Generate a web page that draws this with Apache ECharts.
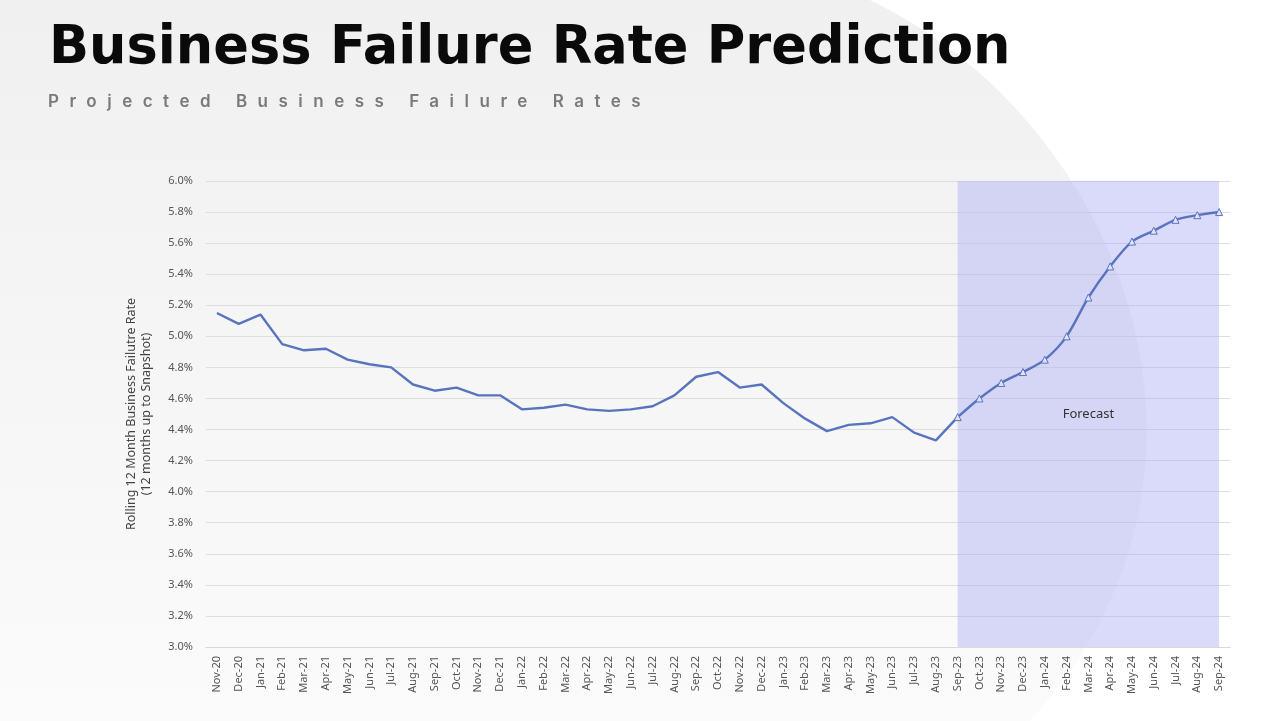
<!DOCTYPE html>
<html>
<head>
<meta charset="utf-8">
<script src="https://cdn.jsdelivr.net/npm/echarts@6/dist/echarts.min.js"></script>
<style>
  html, body { margin: 0; padding: 0; background: #ffffff; }
  #wrap { position: relative; width: 1280px; height: 721px; }
  #chart { position: absolute; left: 0; top: 0; width: 1280px; height: 721px; }
  #sub { position: absolute; left: 48px; top: 91px; font-family: Inter, "Noto Sans", sans-serif; font-size: 17px; font-weight: 600; color: #7a7a7a; letter-spacing: 10.5px; white-space: nowrap; }
</style>
</head>
<body>
<div id="wrap">
  <div id="chart"></div>
  <div id="sub">Projected Business Failure Rates</div>
</div>
<script>
const categories = ['Nov-20','Dec-20','Jan-21','Feb-21','Mar-21','Apr-21','May-21','Jun-21','Jul-21','Aug-21','Sep-21','Oct-21','Nov-21','Dec-21','Jan-22','Feb-22','Mar-22','Apr-22','May-22','Jun-22','Jul-22','Aug-22','Sep-22','Oct-22','Nov-22','Dec-22','Jan-23','Feb-23','Mar-23','Apr-23','May-23','Jun-23','Jul-23','Aug-23','Sep-23','Oct-23','Nov-23','Dec-23','Jan-24','Feb-24','Mar-24','Apr-24','May-24','Jun-24','Jul-24','Aug-24','Sep-24'];
// Actual rates Nov-20 .. Sep-23 (%)
const actualRates = [5.15,5.08,5.14,4.95,4.91,4.92,4.85,4.82,4.80,4.69,4.65,4.67,4.62,4.62,4.53,4.54,4.56,4.53,4.52,4.53,4.55,4.62,4.74,4.77,4.67,4.69,4.57,4.47,4.39,4.43,4.44,4.48,4.38,4.33,4.48];
// Forecast rates Sep-23 .. Sep-24 (%)
const forecastRates = [4.48,4.60,4.70,4.77,4.85,5.00,5.25,5.45,5.61,5.68,5.75,5.78,5.80];
const yTicks = ['3.0%','3.2%','3.4%','3.6%','3.8%','4.0%','4.2%','4.4%','4.6%','4.8%','5.0%','5.2%','5.4%','5.6%','5.8%','6.0%'];
const forecastStart = 'Sep-23';
const forecastEnd = 'Sep-24';

const actualSeries = categories.map((c, i) => i < actualRates.length ? actualRates[i] : null);
const fOffset = categories.indexOf(forecastStart);
const forecastSeries = categories.map((c, i) => i >= fOffset ? forecastRates[i - fOffset] : null);

// decorative background shape (large soft grey curve on the left of the slide)
function bgShape() {
  const p0 = [870, 0], p1 = [1120, 120], p2 = [1260, 470], p3 = [1030, 721];
  const pts = [[0, 0]];
  for (let k = 0; k <= 40; k++) {
    const t = k / 40, u = 1 - t;
    pts.push([
      u*u*u*p0[0] + 3*u*u*t*p1[0] + 3*u*t*t*p2[0] + t*t*t*p3[0],
      u*u*u*p0[1] + 3*u*u*t*p1[1] + 3*u*t*t*p2[1] + t*t*t*p3[1]
    ]);
  }
  pts.push([0, 721]);
  return pts;
}

const lineColor = '#5874be';
const chart = echarts.init(document.getElementById('chart'), null, { renderer: 'canvas' });
chart.setOption({
  animation: false,
  backgroundColor: '#ffffff',
  graphic: [
    {
      type: 'polygon', z: -10, silent: true,
      shape: { points: bgShape() },
      style: { fill: {
        type: 'linear', x: 0, y: 0, x2: 0, y2: 1,
        colorStops: [{ offset: 0, color: '#f0f0f0' }, { offset: 1, color: '#fbfbfb' }]
      } }
    }
  ],
  title: {
    text: 'Business Failure Rate Prediction',
    left: 44, top: 18,
    textStyle: { fontFamily: 'DejaVu Sans', fontWeight: 'bold', fontSize: 52.6, color: '#0a0a0a' }
  },
  grid: { left: 206, right: 50, top: 181, bottom: 74, containLabel: false },
  xAxis: {
    type: 'category',
    data: categories,
    boundaryGap: true,
    axisLine: { show: true, lineStyle: { color: '#d9d9d9', width: 1 } },
    axisTick: { show: false },
    axisLabel: { rotate: 90, interval: 0, fontFamily: 'Noto Sans', fontSize: 11, color: '#555555', margin: 9 }
  },
  yAxis: {
    type: 'value',
    min: 3.0, max: 6.0, interval: 0.2,
    axisLine: { show: false },
    axisTick: { show: false },
    splitLine: { lineStyle: { color: '#dedede', width: 1 } },
    axisLabel: {
      fontFamily: 'Noto Sans', fontSize: 11, color: '#555555', margin: 13,
      formatter: (v) => yTicks[Math.round((v - 3.0) / 0.2)]
    },
    name: 'Rolling 12 Month Business Failutre Rate\n(12 months up to Snapshot)',
    nameLocation: 'middle',
    nameGap: 52,
    nameRotate: 90,
    nameTextStyle: { fontFamily: 'Noto Sans', fontSize: 12.5, color: '#444444', lineHeight: 15 }
  },
  series: [
    {
      name: 'Actual',
      type: 'line',
      data: actualSeries,
      showSymbol: false,
      symbol: 'none',
      lineStyle: { color: lineColor, width: 2.4 },
      itemStyle: { color: lineColor },
      z: 3,
      markArea: {
        silent: true,
        itemStyle: { color: 'rgba(168,168,245,0.42)' },
        label: { show: true, position: 'inside', color: '#333333', fontFamily: 'Noto Sans', fontSize: 13 },
        data: [[{ name: 'Forecast', xAxis: forecastStart }, { xAxis: forecastEnd }]]
      }
    },
    {
      name: 'Forecast',
      type: 'line',
      data: forecastSeries,
      smooth: 0.3,
      symbol: 'triangle',
      symbolSize: 7,
      showSymbol: true,
      lineStyle: { color: lineColor, width: 2.4 },
      itemStyle: { color: '#e2e2fa', borderColor: lineColor, borderWidth: 1 },
      z: 4
    }
  ]
});
</script>
</body>
</html>
